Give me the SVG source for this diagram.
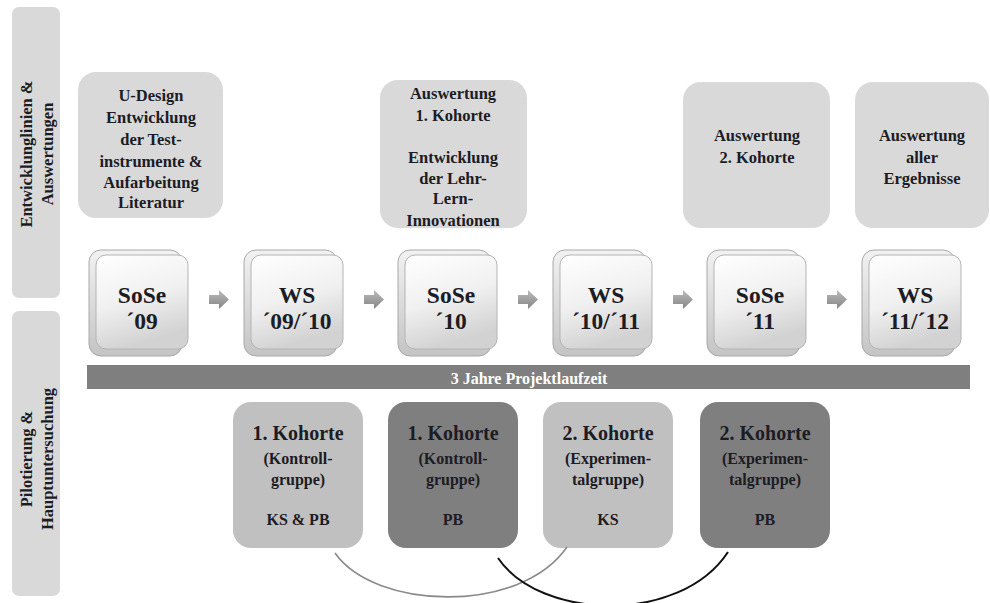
<svg xmlns="http://www.w3.org/2000/svg" width="990" height="603" viewBox="0 0 990 603">
<defs>
<linearGradient id="gFront" x1="0" y1="0" x2="0.3" y2="1">
<stop offset="0" stop-color="#ffffff"/>
<stop offset="0.55" stop-color="#f0f0f0"/>
<stop offset="1" stop-color="#d2d2d2"/>
</linearGradient>
<linearGradient id="gBack" x1="0" y1="0" x2="0" y2="1">
<stop offset="0" stop-color="#f2f2f2"/>
<stop offset="1" stop-color="#c4c4c4"/>
</linearGradient>
<linearGradient id="gArrow" x1="0" y1="0" x2="0" y2="1">
<stop offset="0" stop-color="#bdbdbd"/>
<stop offset="1" stop-color="#838383"/>
</linearGradient>
<style>
.t{font-family:"Liberation Serif","Times New Roman",serif;font-weight:bold;fill:#1c1c24;text-anchor:middle}
.side{fill:#d9d9d9}
.top{fill:#d9d9d9}
.back{fill:url(#gBack);stroke:#a8a8a8;stroke-width:1}
.front{fill:url(#gFront);stroke:#b4b4b4;stroke-width:1}
.sem{font-size:23.5px}
.tb{font-size:16.5px}
.h{font-size:20px}
.s{font-size:16px}
.lt{fill:#c0c0c0}
.dk{fill:#7f7f7f}
.arr{fill:url(#gArrow)}
</style>
</defs>
<rect width="990" height="603" fill="#ffffff"/>

<g id="side-top">
<rect class="side" x="12" y="7" width="48" height="291" rx="7"/>
<text class="t" font-size="16.5" transform="translate(32,154) rotate(-90)">Entwicklunglinien &amp;</text>
<text class="t" font-size="16.5" transform="translate(53,154) rotate(-90)">Auswertungen</text>
</g>
<g id="side-bottom">
<rect class="side" x="12" y="311" width="48" height="285" rx="7"/>
<text class="t" font-size="16.5" transform="translate(32,459) rotate(-90)">Pilotierung &amp;</text>
<text class="t" font-size="16.5" transform="translate(53,459) rotate(-90)">Hauptuntersuchung</text>
</g>

<g id="top1">
<rect class="top" x="78" y="72" width="145" height="146" rx="18"/>
<text class="t tb" x="151" y="101">U-Design</text>
<text class="t tb" x="151" y="123">Entwicklung</text>
<text class="t tb" x="151" y="145">der Test-</text>
<text class="t tb" x="151" y="167">instrumente &amp;</text>
<text class="t tb" x="151" y="188">Aufarbeitung</text>
<text class="t tb" x="151" y="208">Literatur</text>
</g>
<g id="top2">
<rect class="top" x="380" y="80" width="147" height="148" rx="18"/>
<text class="t tb" x="453" y="99">Auswertung</text>
<text class="t tb" x="453" y="121">1. Kohorte</text>
<text class="t tb" x="453" y="163">Entwicklung</text>
<text class="t tb" x="453" y="184">der Lehr-</text>
<text class="t tb" x="453" y="204">Lern-</text>
<text class="t tb" x="453" y="226">Innovationen</text>
</g>
<g id="top3">
<rect class="top" x="683" y="82" width="147" height="146" rx="18"/>
<text class="t tb" x="757" y="141">Auswertung</text>
<text class="t tb" x="757" y="163">2. Kohorte</text>
</g>
<g id="top4">
<rect class="top" x="855" y="82" width="134" height="146" rx="18"/>
<text class="t tb" x="922" y="141">Auswertung</text>
<text class="t tb" x="922" y="163">aller</text>
<text class="t tb" x="922" y="184">Ergebnisse</text>
</g>

<g id="sem1">
<rect class="back" x="89" y="250" width="93" height="106" rx="12"/>
<rect class="front" x="96" y="255" width="92" height="94" rx="10"/>
<text class="t sem" x="142" y="303">SoSe</text>
<text class="t sem" x="142" y="329">´09</text>
</g>
<g id="sem2">
<rect class="back" x="244" y="250" width="93" height="106" rx="12"/>
<rect class="front" x="251" y="255" width="92" height="94" rx="10"/>
<text class="t sem" x="297" y="303">WS</text>
<text class="t sem" x="297" y="329">´09/´10</text>
</g>
<g id="sem3">
<rect class="back" x="398" y="250" width="93" height="106" rx="12"/>
<rect class="front" x="405" y="255" width="92" height="94" rx="10"/>
<text class="t sem" x="451" y="303">SoSe</text>
<text class="t sem" x="451" y="329">´10</text>
</g>
<g id="sem4">
<rect class="back" x="553" y="250" width="93" height="106" rx="12"/>
<rect class="front" x="560" y="255" width="92" height="94" rx="10"/>
<text class="t sem" x="606" y="303">WS</text>
<text class="t sem" x="606" y="329">´10/´11</text>
</g>
<g id="sem5">
<rect class="back" x="707" y="250" width="93" height="106" rx="12"/>
<rect class="front" x="714" y="255" width="92" height="94" rx="10"/>
<text class="t sem" x="760" y="303">SoSe</text>
<text class="t sem" x="760" y="329">´11</text>
</g>
<g id="sem6">
<rect class="back" x="862" y="250" width="93" height="106" rx="12"/>
<rect class="front" x="869" y="255" width="92" height="94" rx="10"/>
<text class="t sem" x="915" y="303">WS</text>
<text class="t sem" x="915" y="329">´11/´12</text>
</g>

<g id="timeline">
<rect x="87" y="365" width="883" height="24" fill="#7f7f7f"/>
<text class="t" x="529" y="384" font-size="16" style="fill:#ffffff">3 Jahre Projektlaufzeit</text>
</g>

<g id="k1">
<rect class="lt" x="233" y="402" width="130" height="146" rx="18"/>
<text class="t h" x="298" y="440">1. Kohorte</text>
<text class="t s" x="298" y="464">(Kontroll-</text>
<text class="t s" x="298" y="485">gruppe)</text>
<text class="t s" x="298" y="525">KS &amp; PB</text>
</g>
<g id="k2">
<rect class="dk" x="388" y="402" width="130" height="146" rx="18"/>
<text class="t h" x="453" y="440">1. Kohorte</text>
<text class="t s" x="453" y="464">(Kontroll-</text>
<text class="t s" x="453" y="485">gruppe)</text>
<text class="t s" x="453" y="525">PB</text>
</g>
<g id="k3">
<rect class="lt" x="543" y="402" width="130" height="146" rx="18"/>
<text class="t h" x="608" y="440">2. Kohorte</text>
<text class="t s" x="608" y="464">(Experimen-</text>
<text class="t s" x="608" y="485">talgruppe)</text>
<text class="t s" x="608" y="525">KS</text>
</g>
<g id="k4">
<rect class="dk" x="700" y="402" width="130" height="146" rx="18"/>
<text class="t h" x="765" y="440">2. Kohorte</text>
<text class="t s" x="765" y="464">(Experimen-</text>
<text class="t s" x="765" y="485">talgruppe)</text>
<text class="t s" x="765" y="525">PB</text>
</g>

<g id="connectors">
<path class="arr" d="M209,295 h10 v-5 l10,9.5 l-10,9.5 v-5 h-10 z"/>
<path class="arr" d="M364,295 h10 v-5 l10,9.5 l-10,9.5 v-5 h-10 z"/>
<path class="arr" d="M518,295 h10 v-5 l10,9.5 l-10,9.5 v-5 h-10 z"/>
<path class="arr" d="M673,295 h10 v-5 l10,9.5 l-10,9.5 v-5 h-10 z"/>
<path class="arr" d="M827,295 h10 v-5 l10,9.5 l-10,9.5 v-5 h-10 z"/>
<path d="M335,553 C375,610 520,615 567,547" fill="none" stroke="#8a8a8a" stroke-width="1.6"/>
<path d="M498,558 C540,620 680,625 728,552" fill="none" stroke="#111111" stroke-width="2"/>
</g>
</svg>
